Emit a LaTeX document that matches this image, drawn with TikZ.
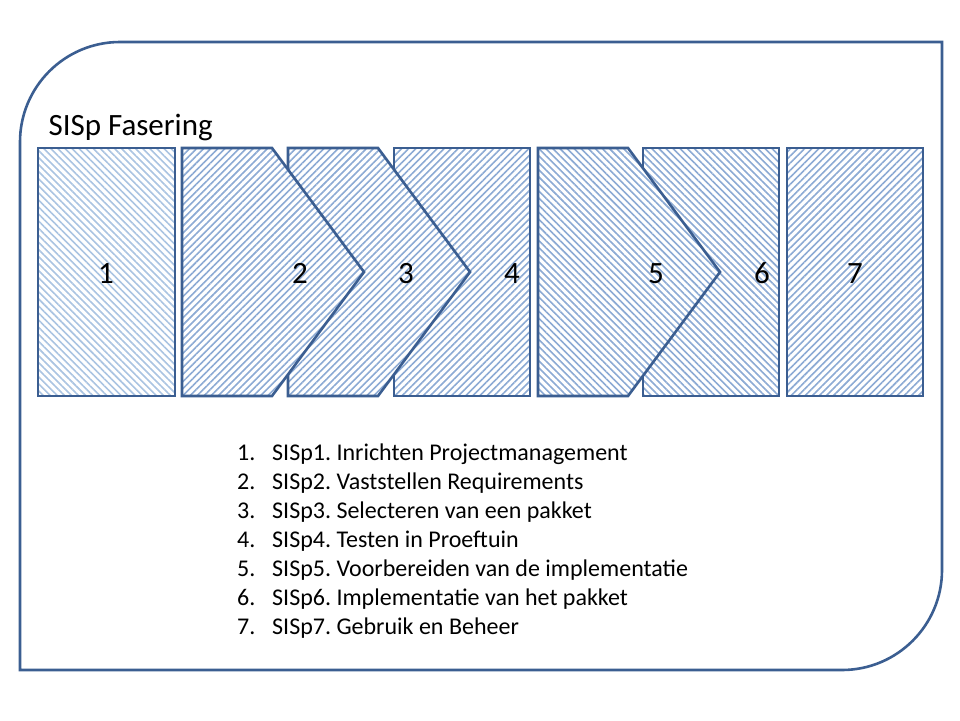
\documentclass[tikz,border=0pt]{standalone}
\usepackage{fontspec}
\setmainfont{Carlito}
\frenchspacing
\usetikzlibrary{patterns.meta}
\definecolor{edge}{RGB}{59,94,145}
\definecolor{hatch}{RGB}{140,170,212}
\definecolor{hatchl}{RGB}{170,196,226}
\tikzset{
 ne/.style={draw=edge,line width=2.6pt,line join=miter,preaction={fill=white},pattern={Lines[angle=45,distance=5pt,line width=1.6pt]},pattern color=hatch},
 nw/.style={draw=edge,line width=2.6pt,line join=miter,preaction={fill=white},pattern={Lines[angle=-45,distance=5pt,line width=1.6pt]},pattern color=hatch},
 nwl/.style={nw,pattern color=hatchl},
 num/.style={font=\fontsize{31}{36}\selectfont,anchor=base},
 item/.style={font=\fontsize{24}{28}\selectfont,anchor=base west}
}
\begin{document}
\begin{tikzpicture}[x=1pt,y=-1pt]
\useasboundingbox[fill=white] (0,0) rectangle (960,720);
\draw[edge,line width=2.6pt] (20,670) -- (20,142) arc[start angle=180,end angle=270,radius=100] -- (942,42) -- (942,570) arc[start angle=0,end angle=90,radius=100] -- cycle;
\node[num,anchor=west] (title) at (45,127) {SISp Fasering};
\path[nwl] (38,148) rectangle (175,396);
\path[nw] (643,148) rectangle (779,396);
\path[nw] (538,148) -- (628,148) -- (720,272) -- (628,396) -- (538,396) -- cycle;
\path[ne] (394,148) rectangle (530,396);
\path[ne] (288,148) -- (378,148) -- (470,272) -- (378,396) -- (288,396) -- cycle;
\path[ne] (182,148) -- (272,148) -- (364,272) -- (272,396) -- (182,396) -- cycle;
\path[ne] (787,148) rectangle (923,396);
\node[num] (n1) at (106,283) {1};
\node[num] (n2) at (300,283) {2};
\node[num] (n3) at (406,283) {3};
\node[num] (n4) at (512,283) {4};
\node[num] (n5) at (656,283) {5};
\node[num] (n6) at (762,283) {6};
\node[num] (n7) at (855,283) {7};
\foreach \i/\t [count=\k from 0] in {1/SISp1. Inrichten Projectmanagement,2/SISp2. Vaststellen Requirements,3/SISp3. Selecteren van een pakket,4/SISp4. Testen in Proeftuin,5/SISp5. Voorbereiden van de implementatie,6/SISp6. Implementatie van het pakket,7/SISp7. Gebruik en Beheer}{
 \node[item,inner sep=0pt] (l\i) at (237,460+29*\k) {\i.};
 \node[item,inner sep=0pt] (t\i) at (272,460+29*\k) {\t};
}
\end{tikzpicture}
\end{document}
